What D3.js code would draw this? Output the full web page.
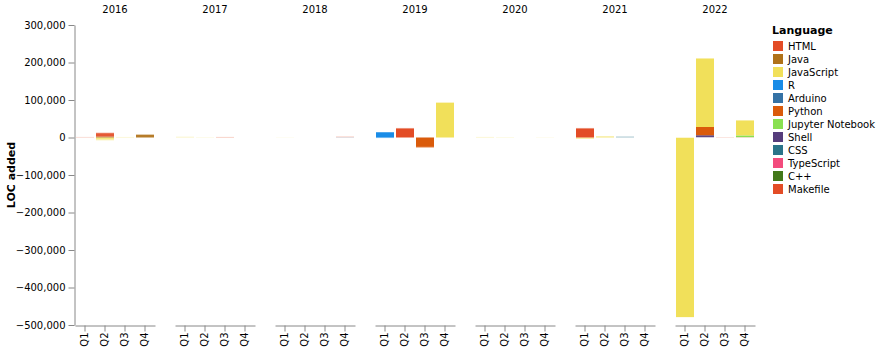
<!DOCTYPE html>
<html>
<head>
<meta charset="utf-8">
<script src="https://cdn.jsdelivr.net/npm/d3@7"></script>
<style>
  body { margin: 0; background: #fff; }
  svg text { font-family: "DejaVu Sans", sans-serif; }
</style>
</head>
<body>
<div id="chart"></div>
<script>
// Data
const years = [2016, 2017, 2018, 2019, 2020, 2021, 2022];
const quarters = ['Q1', 'Q2', 'Q3', 'Q4'];
const languages = ['HTML', 'Java', 'JavaScript', 'R', 'Arduino', 'Python', 'Jupyter Notebook', 'Shell', 'CSS', 'TypeScript', 'C++', 'Makefile'];
const languageColors = ['#e34c26', '#b07219', '#f1e05a', '#198ce7', '#3572a5', '#da5b0b', '#89e051', '#563d7c', '#2b7489', '#f34b7d', '#427819', '#e34c26'];
const yTicks = [300000, 200000, 100000, 0, -100000, -200000, -300000, -400000, -500000];

// year, quarter, language, LOC added, commits
const changes = [
  [2016, 'Q1', 'HTML', 1500, 3],
  [2016, 'Q2', 'HTML', 9000, 30],
  [2016, 'Q2', 'HTML', 1500, 6],
  [2016, 'Q2', 'Java', 2500, 30],
  [2016, 'Q2', 'JavaScript', -5000, 20],
  [2016, 'Q2', 'JavaScript', -2500, 8],
  [2016, 'Q3', 'JavaScript', 1500, 5],
  [2016, 'Q4', 'Java', 7000, 30],
  [2016, 'Q4', 'Java', 1500, 6],
  [2017, 'Q1', 'JavaScript', 2000, 5],
  [2017, 'Q2', 'JavaScript', 1000, 3],
  [2017, 'Q3', 'HTML', 1500, 6],
  [2018, 'Q1', 'JavaScript', 800, 1],
  [2018, 'Q4', 'HTML', 1500, 6],
  [2018, 'Q4', 'Arduino', 800, 6],
  [2019, 'Q1', 'R', 14000, 35],
  [2019, 'Q1', 'R', -1500, 10],
  [2019, 'Q2', 'HTML', 24000, 35],
  [2019, 'Q2', 'HTML', 1500, 8],
  [2019, 'Q3', 'Python', -25000, 35],
  [2019, 'Q3', 'Python', -2000, 12],
  [2019, 'Q4', 'JavaScript', 92000, 35],
  [2019, 'Q4', 'JavaScript', 2000, 8],
  [2020, 'Q1', 'JavaScript', 1500, 6],
  [2020, 'Q2', 'JavaScript', 1000, 4],
  [2020, 'Q4', 'JavaScript', 800, 2],
  [2021, 'Q1', 'HTML', 24000, 35],
  [2021, 'Q1', 'HTML', 1500, 8],
  [2021, 'Q1', 'JavaScript', -2000, 20],
  [2021, 'Q1', 'JavaScript', -2000, 8],
  [2021, 'Q2', 'JavaScript', 3000, 20],
  [2021, 'Q3', 'CSS', 2500, 6],
  [2022, 'Q1', 'JavaScript', -1000, 6],
  [2022, 'Q1', 'JavaScript', -478000, 35],
  [2022, 'Q2', 'JavaScript', 182000, 35],
  [2022, 'Q2', 'JavaScript', 2000, 8],
  [2022, 'Q2', 'Python', 22000, 35],
  [2022, 'Q2', 'Shell', 1500, 8],
  [2022, 'Q2', 'Shell', 4500, 35],
  [2022, 'Q3', 'HTML', 1000, 4],
  [2022, 'Q4', 'JavaScript', 40000, 35],
  [2022, 'Q4', 'Jupyter Notebook', 4500, 35],
  [2022, 'Q4', 'Makefile', 1000, 6]
];

// Dimensions
const width = 878;
const height = 351;
const margin = {top: 25, left: 75};
const facetWidth = 80;
const facetGap = 20;
const plotHeight = 300;

const svg = d3.select('#chart')
  .append('svg')
    .attr('width', width)
    .attr('height', height);

// Scales
const y = d3.scaleLinear()
  .domain([-500000, 300000])
  .range([margin.top + plotHeight, margin.top]);
const x = d3.scaleBand()
  .domain(quarters)
  .range([0, facetWidth])
  .paddingInner(0.1)
  .paddingOuter(0.05);
const color = d3.scaleOrdinal()
  .domain(languages)
  .range(languageColors);
const opacity = d3.scaleSqrt()
  .domain([0, 35])
  .range([0.05, 1]);

// Stack the rows of each year/quarter: positives up, negatives down
const rows = changes.map(([year, quarter, language, loc, commits], i) =>
  ({year, quarter, language, loc, commits, i}));
const stacked = [];
d3.group(rows, d => d.year, d => d.quarter).forEach(byQuarter => {
  byQuarter.forEach(list => {
    const ordered = list.slice().sort((a, b) =>
      languages.indexOf(b.language) - languages.indexOf(a.language) || a.i - b.i);
    let pos = 0, neg = 0;
    ordered.forEach(d => {
      if (d.loc >= 0) { stacked.push({...d, y0: pos, y1: pos + d.loc}); pos += d.loc; }
      else { stacked.push({...d, y0: neg, y1: neg + d.loc}); neg += d.loc; }
    });
  });
});

// Y axis
const yAxis = svg.append('g')
  .attr('transform', `translate(${margin.left - 0.5},0)`)
  .call(d3.axisLeft(y).tickValues(yTicks).tickFormat(d3.format(',')).tickSizeOuter(0));
yAxis.select('.domain').attr('stroke', '#888');
yAxis.selectAll('.tick line').attr('stroke', '#888');
yAxis.selectAll('.tick text').attr('font-size', 10).attr('fill', '#000').attr('font-family', 'DejaVu Sans, sans-serif');

svg.append('text')
  .attr('transform', `translate(15,${margin.top + plotHeight / 2}) rotate(-90)`)
  .attr('text-anchor', 'middle')
  .attr('font-size', 11)
  .style('font-weight', 700)
  .text('LOC added');

// Facets
years.forEach((year, i) => {
  const fx = margin.left + i * (facetWidth + facetGap);
  const g = svg.append('g').attr('transform', `translate(${fx},0)`);

  g.append('text')
    .attr('x', facetWidth / 2)
    .attr('y', 13)
    .attr('text-anchor', 'middle')
    .attr('font-size', 10)
    .text(year);

  g.append('g')
    .attr('class', 'bars')
    .selectAll('rect')
    .data(stacked.filter(d => d.year === year))
    .join('rect')
      .attr('x', d => x(d.quarter))
      .attr('width', x.bandwidth())
      .attr('y', d => y(Math.max(d.y0, d.y1)))
      .attr('height', d => Math.abs(y(d.y0) - y(d.y1)))
      .attr('fill', d => color(d.language))
      .attr('fill-opacity', d => opacity(d.commits));

  const xAxis = g.append('g')
    .attr('transform', `translate(0,${margin.top + plotHeight + 0.5})`)
    .call(d3.axisBottom(x).tickSizeOuter(0));
  xAxis.select('.domain').attr('stroke', '#888');
  xAxis.selectAll('.tick line').attr('stroke', '#888');
  xAxis.selectAll('.tick text')
    .attr('font-size', 10)
    .attr('fill', '#000')
    .attr('font-family', 'DejaVu Sans, sans-serif')
    .attr('transform', 'rotate(-90)')
    .attr('text-anchor', 'end')
    .attr('dy', '0.32em')
    .attr('x', -7)
    .attr('y', 0);
});

// Legend
const legend = svg.append('g').attr('transform', 'translate(772,0)');
legend.append('text')
  .attr('x', 0)
  .attr('y', 34)
  .attr('font-size', 11)
  .style('font-weight', 700)
  .text('Language');
const items = legend.selectAll('.item')
  .data(languages)
  .join('g')
    .attr('class', 'item')
    .attr('transform', (d, i) => `translate(0,${46 + i * 13})`);
items.append('rect')
  .attr('x', 1)
  .attr('y', -5)
  .attr('width', 10)
  .attr('height', 10)
  .attr('fill', d => color(d));
items.append('text')
  .attr('x', 16)
  .attr('y', 0)
  .attr('dy', '0.35em')
  .attr('font-size', 10)
  .text(d => d);
</script>
</body>
</html>
